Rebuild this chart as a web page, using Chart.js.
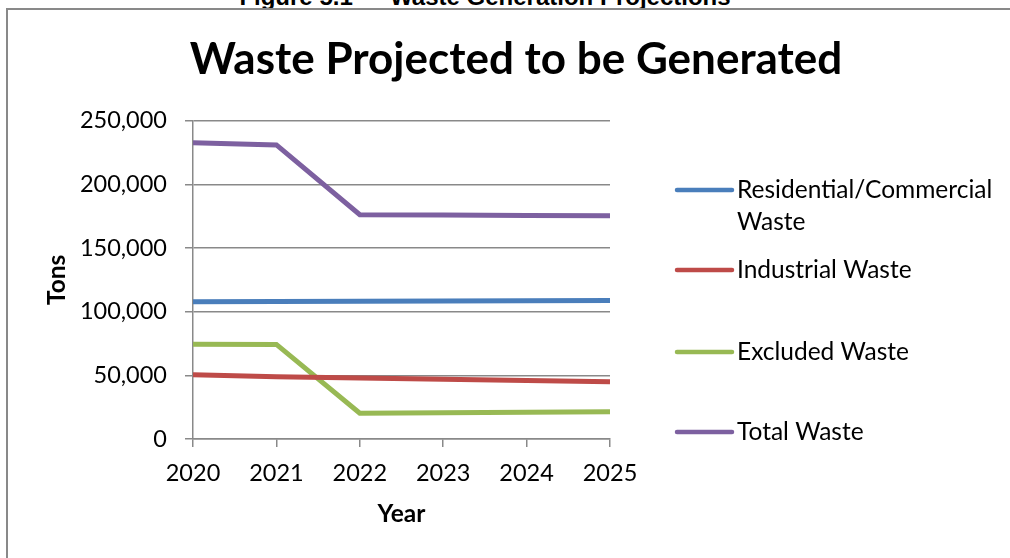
<!DOCTYPE html>
<html>
<head>
<meta charset="utf-8">
<script src="https://cdn.jsdelivr.net/npm/chart.js@4"></script>
<style>
    html, body { margin: 0; padding: 0; background: #fff; overflow: hidden; width: 1010px; height: 558px; }
    .caption {
        position: absolute; top: -17px; left: 0; width: 970px; text-align: center;
        font: bold 24px "Liberation Sans Narrow", "Liberation Sans", sans-serif; color: #000;
    }
    .frame {
        position: absolute; left: 6px; top: 8px; width: 1012px; height: 600px;
        border: 2px solid #898989;
    }
    canvas { position: absolute; left: 0; top: 0; }
</style>
</head>
<body>
<div class="caption">Figure 5.1 — Waste Generation Projections</div>
<div class="frame">
    <canvas id="wasteChart" width="1012" height="548"></canvas>
</div>
<script>
const years = ['2020', '2021', '2022', '2023', '2024', '2025'];
const residential = [107800, 108000, 108200, 108400, 108600, 108800];
const industrial = [50500, 48900, 48000, 47000, 46000, 45000];
const excluded = [74400, 74300, 20200, 20600, 21000, 21500];
const total = [232700, 231000, 176100, 175900, 175600, 175300];

const seriesNames = ['Residential/Commercial Waste', 'Industrial Waste', 'Excluded Waste', 'Total Waste'];
const seriesColors = ['#4a7ebb', '#be4b48', '#98b954', '#7d60a0'];
const chartTitle = 'Waste Projected to be Generated';

const fontFamily = 'Lato, "Open Sans", sans-serif';

/* title + legend drawn by hand: title centred on the whole frame, legend wraps like the original */
const decorations = {
    id: 'decorations',
    afterDraw(chart) {
        const ctx = chart.ctx;
        ctx.save();

        ctx.font = 'bold 44px ' + fontFamily;
        ctx.fillStyle = '#000';
        ctx.textAlign = 'center';
        ctx.textBaseline = 'alphabetic';
        ctx.fillText(chartTitle, 508, 64);

        const rows = [180, 260, 342, 422];
        const lineX1 = 669, lineX2 = 724, textX = 729, maxW = 285;
        ctx.font = '24.5px ' + fontFamily;
        ctx.textAlign = 'left';
        ctx.textBaseline = 'middle';
        chart.data.datasets.forEach((ds, i) => {
            const y = rows[i];
            ctx.strokeStyle = ds.borderColor;
            ctx.lineWidth = 4.5;
            ctx.lineCap = 'round';
            ctx.beginPath();
            ctx.moveTo(lineX1, y);
            ctx.lineTo(lineX2, y);
            ctx.stroke();

            // simple word wrap
            const words = ds.label.split(' ');
            let line = '';
            let ly = y;
            words.forEach(w => {
                const test = line ? line + ' ' + w : w;
                if (ctx.measureText(test).width > maxW && line) {
                    ctx.fillText(line, textX, ly);
                    line = w;
                    ly += 32;
                } else {
                    line = test;
                }
            });
            ctx.fillText(line, textX, ly);
        });
        ctx.restore();
    }
};

const ctx = document.getElementById('wasteChart').getContext('2d');

new Chart(ctx, {
    type: 'line',
    data: {
        labels: years,
        datasets: [residential, industrial, excluded, total].map((vals, i) => ({
            label: seriesNames[i],
            data: vals,
            borderColor: seriesColors[i],
            backgroundColor: seriesColors[i],
            borderWidth: 5,
            pointRadius: 0,
            tension: 0,
            fill: false
        }))
    },
    options: {
        responsive: false,
        animation: false,
        layout: { padding: { left: 0, top: 110.7, right: 410, bottom: 0 } },
        plugins: {
            legend: { display: false },
            tooltip: { enabled: false },
            title: { display: false }
        },
        scales: {
            x: {
                grid: { drawOnChartArea: false, drawTicks: true, tickLength: 8, color: '#898989', lineWidth: 1.5 },
                border: { color: '#898989', width: 1.5 },
                ticks: { color: '#000', padding: 12, font: { family: fontFamily, size: 23.5 } },
                title: {
                    display: true, text: 'Year', color: '#000',
                    font: { family: fontFamily, size: 24.5, weight: 'bold', lineHeight: 1.2 },
                    padding: { top: 0, bottom: 29 }
                },
                afterFit(scale) { scale.height = 119; }
            },
            y: {
                min: 0,
                max: 250000,
                grid: { color: '#898989', lineWidth: 1.5, tickLength: 8 },
                border: { color: '#898989', width: 1.5 },
                ticks: {
                    stepSize: 50000,
                    color: '#000',
                    padding: 18,
                    font: { family: fontFamily, size: 23.5 },
                    callback: v => v.toLocaleString('en-US')
                },
                title: {
                    display: true, text: 'Tons', color: '#000',
                    font: { family: fontFamily, size: 24.5, weight: 'bold', lineHeight: 1.2 },
                    padding: { top: 34, bottom: 0 }
                },
                afterFit(scale) { scale.width = 185; }
            }
        }
    },
    plugins: [decorations]
});
</script>
</body>
</html>
